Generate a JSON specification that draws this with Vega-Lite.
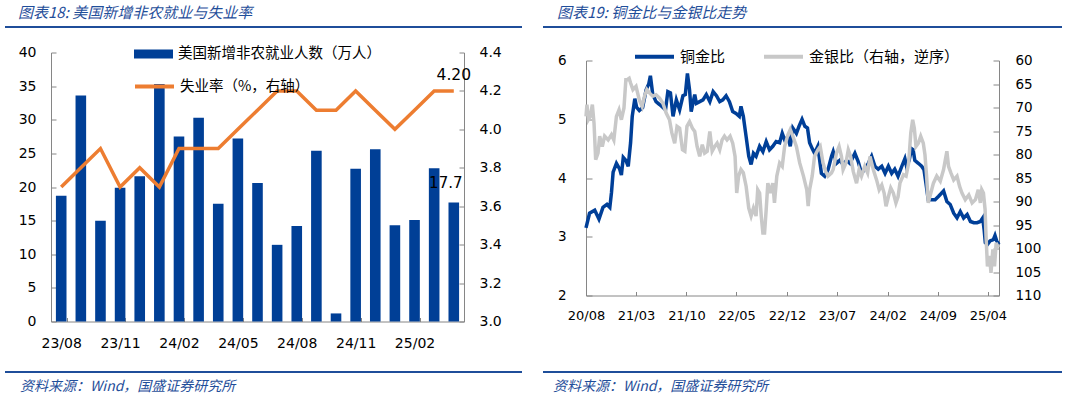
{
  "$schema": "https://vega.github.io/schema/vega-lite/v6.json",
  "background": "white",
  "padding": {"left": 4, "top": 6, "right": 0, "bottom": 0},
  "spacing": 20,
  "resolve": {"scale": {"color": "independent", "stroke": "independent"}, "legend": {"color": "independent", "stroke": "independent"}},
  "config": {
    "view": {"stroke": null},
    "font": "DejaVu Sans",
    "axis": {"grid": false, "domainColor": "#868686", "tickColor": "#868686", "labelColor": "#000000", "labelFont": "DejaVu Sans", "title": null, "labelOverlap": false},
    "legend": {"labelFont": "Noto Sans CJK SC", "labelColor": "#000000", "labelLimit": 500, "title": null},
    "title": {"font": "Noto Sans CJK SC", "fontStyle": "italic", "fontWeight": "normal", "color": "#1F4E9A", "fontSize": 15, "anchor": "start"}
  },
  "datasets": {
    "nfp": [
      {"month": "23/08", "nfp": 18.7, "ur": 3.7},
      {"month": "23/09", "nfp": 33.6, "ur": 3.8},
      {"month": "23/10", "nfp": 15.0, "ur": 3.9},
      {"month": "23/11", "nfp": 19.9, "ur": 3.7},
      {"month": "23/12", "nfp": 21.6, "ur": 3.8},
      {"month": "24/01", "nfp": 35.3, "ur": 3.7},
      {"month": "24/02", "nfp": 27.5, "ur": 3.9},
      {"month": "24/03", "nfp": 30.3, "ur": 3.9},
      {"month": "24/04", "nfp": 17.5, "ur": 3.9},
      {"month": "24/05", "nfp": 27.2, "ur": 4.0},
      {"month": "24/06", "nfp": 20.6, "ur": 4.1},
      {"month": "24/07", "nfp": 11.4, "ur": 4.2},
      {"month": "24/08", "nfp": 14.2, "ur": 4.2},
      {"month": "24/09", "nfp": 25.4, "ur": 4.1},
      {"month": "24/10", "nfp": 1.2, "ur": 4.1},
      {"month": "24/11", "nfp": 22.7, "ur": 4.2},
      {"month": "24/12", "nfp": 25.6, "ur": 4.1},
      {"month": "25/01", "nfp": 14.3, "ur": 4.0},
      {"month": "25/02", "nfp": 15.1, "ur": 4.1},
      {"month": "25/03", "nfp": 22.8, "ur": 4.2},
      {"month": "25/04", "nfp": 17.7, "ur": 4.2}
    ],
    "cg": [
      {"date": "2020-08-01", "v": 3.15}, {"date": "2020-08-16", "v": 3.4}, {"date": "2020-09-07", "v": 3.45}, {"date": "2020-09-25", "v": 3.3},
      {"date": "2020-10-12", "v": 3.5}, {"date": "2020-10-29", "v": 3.55}, {"date": "2020-11-10", "v": 3.5}, {"date": "2020-11-17", "v": 3.75},
      {"date": "2020-11-24", "v": 4.1}, {"date": "2020-12-08", "v": 4.25}, {"date": "2020-12-22", "v": 4.15}, {"date": "2020-12-29", "v": 4.05},
      {"date": "2021-01-06", "v": 4.35}, {"date": "2021-01-17", "v": 4.3}, {"date": "2021-01-27", "v": 4.2}, {"date": "2021-02-06", "v": 4.6},
      {"date": "2021-02-13", "v": 5.05}, {"date": "2021-02-24", "v": 5.35}, {"date": "2021-03-04", "v": 5.2}, {"date": "2021-03-15", "v": 5.15},
      {"date": "2021-03-29", "v": 5.2}, {"date": "2021-04-13", "v": 5.5}, {"date": "2021-04-24", "v": 5.6}, {"date": "2021-05-01", "v": 5.74},
      {"date": "2021-05-11", "v": 5.42}, {"date": "2021-05-25", "v": 5.3}, {"date": "2021-06-09", "v": 5.25}, {"date": "2021-06-23", "v": 5.2},
      {"date": "2021-07-04", "v": 5.16}, {"date": "2021-07-14", "v": 5.47}, {"date": "2021-07-25", "v": 5.45}, {"date": "2021-08-05", "v": 5.05},
      {"date": "2021-08-19", "v": 5.33}, {"date": "2021-09-02", "v": 5.16}, {"date": "2021-09-16", "v": 5.4}, {"date": "2021-09-26", "v": 5.42},
      {"date": "2021-10-05", "v": 5.78}, {"date": "2021-10-14", "v": 5.5}, {"date": "2021-10-21", "v": 5.13}, {"date": "2021-11-05", "v": 5.42},
      {"date": "2021-11-12", "v": 5.27}, {"date": "2021-11-26", "v": 5.3}, {"date": "2021-12-10", "v": 5.33}, {"date": "2021-12-24", "v": 5.42},
      {"date": "2022-01-08", "v": 5.3}, {"date": "2022-01-22", "v": 5.47}, {"date": "2022-02-05", "v": 5.4}, {"date": "2022-02-19", "v": 5.3},
      {"date": "2022-03-04", "v": 5.33}, {"date": "2022-03-18", "v": 5.4}, {"date": "2022-04-01", "v": 5.3}, {"date": "2022-04-15", "v": 5.13},
      {"date": "2022-04-29", "v": 5.1}, {"date": "2022-05-13", "v": 5.05}, {"date": "2022-05-20", "v": 5.22}, {"date": "2022-05-30", "v": 5.05},
      {"date": "2022-06-11", "v": 4.7}, {"date": "2022-06-22", "v": 4.37}, {"date": "2022-07-02", "v": 4.23}, {"date": "2022-07-12", "v": 4.42},
      {"date": "2022-07-23", "v": 4.37}, {"date": "2022-08-07", "v": 4.54}, {"date": "2022-08-21", "v": 4.45}, {"date": "2022-09-04", "v": 4.62},
      {"date": "2022-09-18", "v": 4.48}, {"date": "2022-10-02", "v": 4.54}, {"date": "2022-10-16", "v": 4.62}, {"date": "2022-10-31", "v": 4.6},
      {"date": "2022-11-11", "v": 4.76}, {"date": "2022-11-21", "v": 4.65}, {"date": "2022-12-05", "v": 4.7}, {"date": "2022-12-15", "v": 4.54},
      {"date": "2022-12-26", "v": 4.85}, {"date": "2023-01-10", "v": 4.76}, {"date": "2023-01-21", "v": 4.88}, {"date": "2023-02-03", "v": 5.0},
      {"date": "2023-02-15", "v": 4.88}, {"date": "2023-02-26", "v": 4.85}, {"date": "2023-03-07", "v": 4.6}, {"date": "2023-03-18", "v": 4.5},
      {"date": "2023-03-28", "v": 4.42}, {"date": "2023-04-11", "v": 4.54}, {"date": "2023-04-26", "v": 4.08}, {"date": "2023-05-10", "v": 4.03},
      {"date": "2023-05-24", "v": 4.14}, {"date": "2023-06-08", "v": 4.37}, {"date": "2023-06-15", "v": 4.45}, {"date": "2023-06-29", "v": 4.25},
      {"date": "2023-07-13", "v": 4.3}, {"date": "2023-07-27", "v": 4.23}, {"date": "2023-08-11", "v": 4.3}, {"date": "2023-08-25", "v": 4.25},
      {"date": "2023-09-15", "v": 4.42}, {"date": "2023-09-29", "v": 4.28}, {"date": "2023-10-13", "v": 4.08}, {"date": "2023-10-27", "v": 4.15},
      {"date": "2023-11-11", "v": 4.25}, {"date": "2023-11-25", "v": 4.37}, {"date": "2023-12-09", "v": 4.2}, {"date": "2023-12-23", "v": 4.15},
      {"date": "2024-01-07", "v": 4.2}, {"date": "2024-01-21", "v": 4.08}, {"date": "2024-02-04", "v": 4.2}, {"date": "2024-02-18", "v": 4.08},
      {"date": "2024-03-02", "v": 4.15}, {"date": "2024-03-16", "v": 4.03}, {"date": "2024-04-01", "v": 4.2}, {"date": "2024-04-14", "v": 4.33},
      {"date": "2024-04-21", "v": 4.2}, {"date": "2024-05-02", "v": 4.3}, {"date": "2024-05-12", "v": 4.5}, {"date": "2024-05-19", "v": 4.48},
      {"date": "2024-05-26", "v": 4.3}, {"date": "2024-06-10", "v": 4.25}, {"date": "2024-06-24", "v": 4.2}, {"date": "2024-07-04", "v": 4.14},
      {"date": "2024-07-12", "v": 3.92}, {"date": "2024-07-22", "v": 3.63}, {"date": "2024-08-06", "v": 3.63}, {"date": "2024-08-20", "v": 3.63},
      {"date": "2024-09-04", "v": 3.69}, {"date": "2024-09-18", "v": 3.75}, {"date": "2024-09-25", "v": 3.78}, {"date": "2024-10-09", "v": 3.6},
      {"date": "2024-10-23", "v": 3.55}, {"date": "2024-11-07", "v": 3.4}, {"date": "2024-11-21", "v": 3.32}, {"date": "2024-12-05", "v": 3.43},
      {"date": "2024-12-19", "v": 3.32}, {"date": "2025-01-03", "v": 3.38}, {"date": "2025-01-17", "v": 3.26}, {"date": "2025-01-31", "v": 3.24},
      {"date": "2025-02-14", "v": 3.24}, {"date": "2025-02-28", "v": 3.26}, {"date": "2025-03-10", "v": 3.32}, {"date": "2025-03-16", "v": 3.12},
      {"date": "2025-03-21", "v": 2.9}, {"date": "2025-03-30", "v": 2.87}, {"date": "2025-04-10", "v": 2.93}, {"date": "2025-04-24", "v": 2.95},
      {"date": "2025-05-01", "v": 3.02}, {"date": "2025-05-08", "v": 2.93}, {"date": "2025-05-18", "v": 2.87}
    ],
    "gs": [
      {"date": "2020-08-01", "v": 71.9}, {"date": "2020-08-05", "v": 69.4}, {"date": "2020-08-11", "v": 72.6}, {"date": "2020-08-19", "v": 71.9},
      {"date": "2020-08-28", "v": 69.4}, {"date": "2020-09-04", "v": 73.3}, {"date": "2020-09-11", "v": 81.1}, {"date": "2020-09-21", "v": 79.7},
      {"date": "2020-09-28", "v": 76.1}, {"date": "2020-10-09", "v": 78.3}, {"date": "2020-10-19", "v": 76.1}, {"date": "2020-11-03", "v": 76.9},
      {"date": "2020-11-17", "v": 75.8}, {"date": "2020-11-27", "v": 76.9}, {"date": "2020-12-08", "v": 71.9}, {"date": "2020-12-19", "v": 70.5},
      {"date": "2020-12-29", "v": 72.6}, {"date": "2021-01-09", "v": 70.1}, {"date": "2021-01-17", "v": 64.1}, {"date": "2021-01-23", "v": 64.1},
      {"date": "2021-01-31", "v": 63.8}, {"date": "2021-02-06", "v": 64.8}, {"date": "2021-02-16", "v": 66.2}, {"date": "2021-03-01", "v": 65.5},
      {"date": "2021-03-15", "v": 68.4}, {"date": "2021-03-27", "v": 69.8}, {"date": "2021-04-06", "v": 67.6}, {"date": "2021-04-16", "v": 66.2},
      {"date": "2021-04-27", "v": 66.9}, {"date": "2021-05-11", "v": 67.6}, {"date": "2021-05-25", "v": 67.3}, {"date": "2021-06-09", "v": 68.0},
      {"date": "2021-06-23", "v": 69.1}, {"date": "2021-07-07", "v": 71.2}, {"date": "2021-07-21", "v": 72.6}, {"date": "2021-07-31", "v": 75.4},
      {"date": "2021-08-12", "v": 77.6}, {"date": "2021-08-22", "v": 74.0}, {"date": "2021-09-02", "v": 74.4}, {"date": "2021-09-14", "v": 79.0},
      {"date": "2021-09-24", "v": 79.3}, {"date": "2021-10-03", "v": 74.0}, {"date": "2021-10-14", "v": 73.0}, {"date": "2021-10-26", "v": 74.4},
      {"date": "2021-11-05", "v": 75.1}, {"date": "2021-11-15", "v": 78.3}, {"date": "2021-11-26", "v": 80.4}, {"date": "2021-12-07", "v": 77.9},
      {"date": "2021-12-17", "v": 79.7}, {"date": "2021-12-28", "v": 79.3}, {"date": "2022-01-08", "v": 75.1}, {"date": "2022-01-18", "v": 79.3},
      {"date": "2022-01-29", "v": 78.3}, {"date": "2022-02-08", "v": 77.6}, {"date": "2022-02-19", "v": 79.0}, {"date": "2022-03-01", "v": 76.9},
      {"date": "2022-03-11", "v": 76.1}, {"date": "2022-03-22", "v": 76.9}, {"date": "2022-04-04", "v": 76.1}, {"date": "2022-04-15", "v": 77.6},
      {"date": "2022-04-25", "v": 80.4}, {"date": "2022-05-02", "v": 88.2}, {"date": "2022-05-10", "v": 84.6}, {"date": "2022-05-20", "v": 83.2},
      {"date": "2022-05-30", "v": 83.9}, {"date": "2022-06-11", "v": 86.8}, {"date": "2022-06-22", "v": 91.4}, {"date": "2022-07-02", "v": 93.1},
      {"date": "2022-07-12", "v": 91.4}, {"date": "2022-07-23", "v": 93.1}, {"date": "2022-07-30", "v": 87.5}, {"date": "2022-08-07", "v": 88.2},
      {"date": "2022-08-14", "v": 93.1}, {"date": "2022-08-21", "v": 96.7}, {"date": "2022-08-28", "v": 96.7}, {"date": "2022-09-04", "v": 91.7},
      {"date": "2022-09-11", "v": 86.1}, {"date": "2022-09-21", "v": 88.2}, {"date": "2022-10-02", "v": 86.1}, {"date": "2022-10-09", "v": 90.3},
      {"date": "2022-10-19", "v": 84.6}, {"date": "2022-10-31", "v": 81.8}, {"date": "2022-11-11", "v": 82.5}, {"date": "2022-11-21", "v": 78.3},
      {"date": "2022-12-05", "v": 75.8}, {"date": "2022-12-15", "v": 74.7}, {"date": "2022-12-26", "v": 76.1}, {"date": "2023-01-10", "v": 78.3},
      {"date": "2023-01-24", "v": 81.8}, {"date": "2023-02-09", "v": 84.6}, {"date": "2023-02-23", "v": 87.5}, {"date": "2023-03-01", "v": 91.0},
      {"date": "2023-03-07", "v": 87.5}, {"date": "2023-03-18", "v": 84.6}, {"date": "2023-03-28", "v": 80.4}, {"date": "2023-04-11", "v": 79.0},
      {"date": "2023-04-21", "v": 78.3}, {"date": "2023-05-03", "v": 81.8}, {"date": "2023-05-14", "v": 83.6}, {"date": "2023-05-24", "v": 84.6},
      {"date": "2023-06-08", "v": 83.9}, {"date": "2023-06-15", "v": 83.2}, {"date": "2023-06-29", "v": 79.7}, {"date": "2023-07-10", "v": 78.3},
      {"date": "2023-07-20", "v": 80.4}, {"date": "2023-07-27", "v": 83.2}, {"date": "2023-08-08", "v": 81.8}, {"date": "2023-08-18", "v": 79.0},
      {"date": "2023-08-28", "v": 80.4}, {"date": "2023-09-08", "v": 83.6}, {"date": "2023-09-22", "v": 86.1}, {"date": "2023-10-03", "v": 83.2},
      {"date": "2023-10-13", "v": 84.6}, {"date": "2023-10-27", "v": 82.5}, {"date": "2023-11-08", "v": 83.9}, {"date": "2023-11-18", "v": 80.4},
      {"date": "2023-12-02", "v": 83.2}, {"date": "2023-12-16", "v": 85.4}, {"date": "2023-12-27", "v": 87.5}, {"date": "2024-01-07", "v": 86.5},
      {"date": "2024-01-17", "v": 88.2}, {"date": "2024-01-25", "v": 91.0}, {"date": "2024-02-04", "v": 89.0}, {"date": "2024-02-14", "v": 87.1},
      {"date": "2024-02-25", "v": 88.2}, {"date": "2024-03-07", "v": 90.3}, {"date": "2024-03-16", "v": 89.0}, {"date": "2024-03-24", "v": 86.1},
      {"date": "2024-04-08", "v": 84.3}, {"date": "2024-04-19", "v": 84.6}, {"date": "2024-04-30", "v": 81.8}, {"date": "2024-05-09", "v": 75.4},
      {"date": "2024-05-17", "v": 72.6}, {"date": "2024-05-24", "v": 74.4}, {"date": "2024-05-31", "v": 78.3}, {"date": "2024-06-10", "v": 77.6},
      {"date": "2024-06-20", "v": 76.1}, {"date": "2024-07-01", "v": 77.6}, {"date": "2024-07-08", "v": 80.0}, {"date": "2024-07-15", "v": 84.6},
      {"date": "2024-07-22", "v": 90.3}, {"date": "2024-08-02", "v": 88.2}, {"date": "2024-08-13", "v": 86.1}, {"date": "2024-08-27", "v": 84.6},
      {"date": "2024-09-11", "v": 85.7}, {"date": "2024-09-25", "v": 83.2}, {"date": "2024-10-09", "v": 79.3}, {"date": "2024-10-16", "v": 82.5},
      {"date": "2024-10-26", "v": 83.9}, {"date": "2024-11-07", "v": 85.4}, {"date": "2024-11-21", "v": 84.6}, {"date": "2024-12-02", "v": 86.8},
      {"date": "2024-12-12", "v": 88.2}, {"date": "2024-12-26", "v": 89.6}, {"date": "2025-01-10", "v": 88.6}, {"date": "2025-01-24", "v": 90.3},
      {"date": "2025-02-07", "v": 89.6}, {"date": "2025-02-19", "v": 87.5}, {"date": "2025-02-28", "v": 90.3}, {"date": "2025-03-06", "v": 87.5},
      {"date": "2025-03-13", "v": 88.2}, {"date": "2025-03-20", "v": 91.7}, {"date": "2025-03-24", "v": 97.4}, {"date": "2025-03-30", "v": 103.8},
      {"date": "2025-04-08", "v": 101.6}, {"date": "2025-04-14", "v": 105.2}, {"date": "2025-04-22", "v": 100.2}, {"date": "2025-04-29", "v": 103.8},
      {"date": "2025-05-06", "v": 98.8}, {"date": "2025-05-12", "v": 99.5}, {"date": "2025-05-18", "v": 99.2}
    ]
  },
  "hconcat": [
    {
      "columns": 2, "align": "none", "spacing": {"row": 1.5, "column": 0},
      "resolve": {"scale": {"color": "independent", "stroke": "independent"}, "legend": {"color": "independent", "stroke": "independent"}},
      "concat": [
        {"width": 1, "height": 1, "view": {"fill": "white", "fillOpacity": 0, "stroke": null}, "data": {"values": [{"a": 1}]}, "mark": {"type": "text", "text": ""}, "encoding": {}},
        {
          "width": 517, "height": 2,
          "view": {"fill": "#1F4E9A", "stroke": null},
          "title": {"text": "图表18: 美国新增非农就业与失业率", "dx": 13, "offset": 0},
          "data": {"values": [{"a": 1}]},
          "mark": {"type": "text", "text": ""},
          "encoding": {}
        },
        {"width": 1, "height": 312, "view": {"fill": "white", "fillOpacity": 0, "stroke": null}, "data": {"values": [{"a": 1}]}, "mark": {"type": "text", "text": ""}, "encoding": {}},
        {
          "width": 413, "height": 269,
          "data": {"name": "nfp"},
          "encoding": {
            "x": {"field": "month", "type": "ordinal", "sort": null,
              "scale": {"paddingInner": 0.46, "paddingOuter": 0.25},
              "axis": {"values": ["23/08", "23/11", "24/02", "24/05", "24/08", "24/11", "25/02"], "labelAngle": 0, "tickBand": "extent", "tickSize": -4, "labelPadding": 19, "labelFontSize": 14}}
          },
          "layer": [
            {
              "encoding": {
                "y": {"field": "nfp", "type": "quantitative", "scale": {"domain": [0, 40]},
                  "axis": {"orient": "left", "values": [0, 5, 10, 15, 20, 25, 30, 35, 40], "tickSize": -5, "labelPadding": 20, "labelFontSize": 14, "minExtent": 46}}
              },
              "layer": [
                {
                  "mark": {"type": "bar", "color": "#003F96"},
                  "encoding": {
                    "color": {"datum": "美国新增非农就业人数（万人）", "type": "nominal", "scale": {"range": ["#003F96"]},
                      "legend": {"orient": "none", "legendX": 82, "legendY": -19, "symbolType": "M-1,-0.23L1,-0.23L1,0.23L-1,0.23Z", "symbolSize": 1521, "labelFontSize": 14.5, "labelOffset": 4}}
                  }
                },
                {
                  "transform": [{"filter": "datum.month == '25/04'"}],
                  "mark": {"type": "text", "align": "center", "baseline": "bottom", "dx": -8, "dy": -11, "fontSize": 15, "font": "DejaVu Sans", "color": "#000000"},
                  "encoding": {
                    "text": {"field": "nfp", "type": "quantitative", "format": ".1f"}
                  }
                }
              ]
            },
            {
              "encoding": {
                "y": {"field": "ur", "type": "quantitative", "scale": {"domain": [3.0, 4.4]},
                  "axis": {"orient": "right", "values": [3.0, 3.2, 3.4, 3.6, 3.8, 4.0, 4.2, 4.4], "format": ".1f", "tickSize": -5, "labelPadding": 20, "labelFontSize": 14}}
              },
              "layer": [
                {
                  "mark": {"type": "line", "strokeWidth": 3.5},
                  "encoding": {
                    "stroke": {"datum": "失业率（%，右轴）", "type": "nominal", "scale": {"range": ["#ED7D31"]},
                      "legend": {"orient": "none", "legendX": 82, "legendY": 12.5, "symbolType": "stroke", "symbolSize": 1521, "symbolStrokeWidth": 4, "labelFontSize": 14.5, "labelOffset": 4}}
                  }
                },
                {
                  "transform": [{"filter": "datum.month == '25/04'"}],
                  "mark": {"type": "text", "align": "center", "baseline": "bottom", "dy": -8, "fontSize": 15.5, "font": "DejaVu Sans", "color": "#000000"},
                  "encoding": {
                    "text": {"field": "ur", "type": "quantitative", "format": ".2f"}
                  }
                }
              ]
            }
          ],
          "resolve": {"scale": {"y": "independent"}}
        },
        {"width": 1, "height": 1, "view": {"fill": "white", "fillOpacity": 0, "stroke": null}, "data": {"values": [{"a": 1}]}, "mark": {"type": "text", "text": ""}, "encoding": {}},
        {
          "width": 517, "height": 2,
          "view": {"fill": "#1F4E9A", "stroke": null},
          "title": {"text": "资料来源：Wind，国盛证券研究所", "orient": "bottom", "dx": 15, "offset": 3, "fontSize": 14},
          "data": {"values": [{"a": 1}]},
          "mark": {"type": "text", "text": ""},
          "encoding": {}
        }
      ]
    },
    {
      "columns": 2, "align": "none", "spacing": {"row": 2.5, "column": 0},
      "resolve": {"scale": {"color": "independent", "stroke": "independent"}, "legend": {"color": "independent", "stroke": "independent"}},
      "concat": [
        {"width": 1, "height": 1, "view": {"fill": "white", "fillOpacity": 0, "stroke": null}, "data": {"values": [{"a": 1}]}, "mark": {"type": "text", "text": ""}, "encoding": {}},
        {
          "width": 519, "height": 2,
          "view": {"fill": "#1F4E9A", "stroke": null},
          "title": {"text": "图表19: 铜金比与金银比走势", "dx": 14, "offset": 0},
          "data": {"values": [{"a": 1}]},
          "mark": {"type": "text", "text": ""},
          "encoding": {}
        },
        {"width": 1, "height": 303, "view": {"fill": "white", "fillOpacity": 0, "stroke": null}, "data": {"values": [{"a": 1}]}, "mark": {"type": "text", "text": ""}, "encoding": {}},
        {
          "width": 413, "height": 235,
          "layer": [
            {
              "data": {"name": "cg"},
              "mark": {"type": "line", "strokeWidth": 3.5},
              "encoding": {
                "x": {"field": "date", "type": "temporal",
                  "scale": {"type": "utc", "domain": [{"year": 2020, "month": 8, "date": 1, "utc": true}, {"year": 2025, "month": 5, "date": 18, "utc": true}]},
                  "axis": {"values": [
                    {"year": 2020, "month": 8, "date": 1, "utc": true}, {"year": 2021, "month": 3, "date": 1, "utc": true},
                    {"year": 2021, "month": 10, "date": 1, "utc": true}, {"year": 2022, "month": 5, "date": 1, "utc": true},
                    {"year": 2022, "month": 12, "date": 1, "utc": true}, {"year": 2023, "month": 7, "date": 1, "utc": true},
                    {"year": 2024, "month": 2, "date": 1, "utc": true}, {"year": 2024, "month": 9, "date": 1, "utc": true},
                    {"year": 2025, "month": 4, "date": 1, "utc": true}],
                    "format": "%y/%m", "labelFlush": false, "tickSize": -4, "labelPadding": 18, "labelFontSize": 13}},
                "y": {"field": "v", "type": "quantitative", "scale": {"domain": [2, 6]},
                  "axis": {"orient": "left", "values": [2, 3, 4, 5, 6], "tickSize": -6, "labelPadding": 26, "labelFontSize": 13.5, "minExtent": 43}},
                "color": {"datum": "铜金比", "type": "nominal",
                  "scale": {"domain": ["铜金比", "金银比（右轴，逆序）"], "range": ["#003F98", "#C8C8C8"]},
                  "legend": {"orient": "none", "legendX": 47, "legendY": -25.5, "direction": "horizontal", "symbolType": "stroke", "symbolSize": 1521, "symbolStrokeWidth": 4, "labelFontSize": 15, "labelOffset": 4, "columnPadding": 30}}
              }
            },
            {
              "data": {"name": "gs"},
              "mark": {"type": "line", "strokeWidth": 3.5},
              "encoding": {
                "x": {"field": "date", "type": "temporal"},
                "y": {"field": "v", "type": "quantitative", "scale": {"domain": [60, 110], "reverse": true},
                  "axis": {"orient": "right", "values": [60, 65, 70, 75, 80, 85, 90, 95, 100, 105, 110], "tickSize": -6, "labelPadding": 22, "labelFontSize": 13.5}},
                "color": {"datum": "金银比（右轴，逆序）", "type": "nominal"}
              }
            }
          ],
          "resolve": {"scale": {"y": "independent"}}
        },
        {"width": 1, "height": 1, "view": {"fill": "white", "fillOpacity": 0, "stroke": null}, "data": {"values": [{"a": 1}]}, "mark": {"type": "text", "text": ""}, "encoding": {}},
        {
          "width": 519, "height": 2,
          "view": {"fill": "#1F4E9A", "stroke": null},
          "title": {"text": "资料来源：Wind，国盛证券研究所", "orient": "bottom", "dx": 10, "offset": 3, "fontSize": 14},
          "data": {"values": [{"a": 1}]},
          "mark": {"type": "text", "text": ""},
          "encoding": {}
        }
      ]
    }
  ]
}
